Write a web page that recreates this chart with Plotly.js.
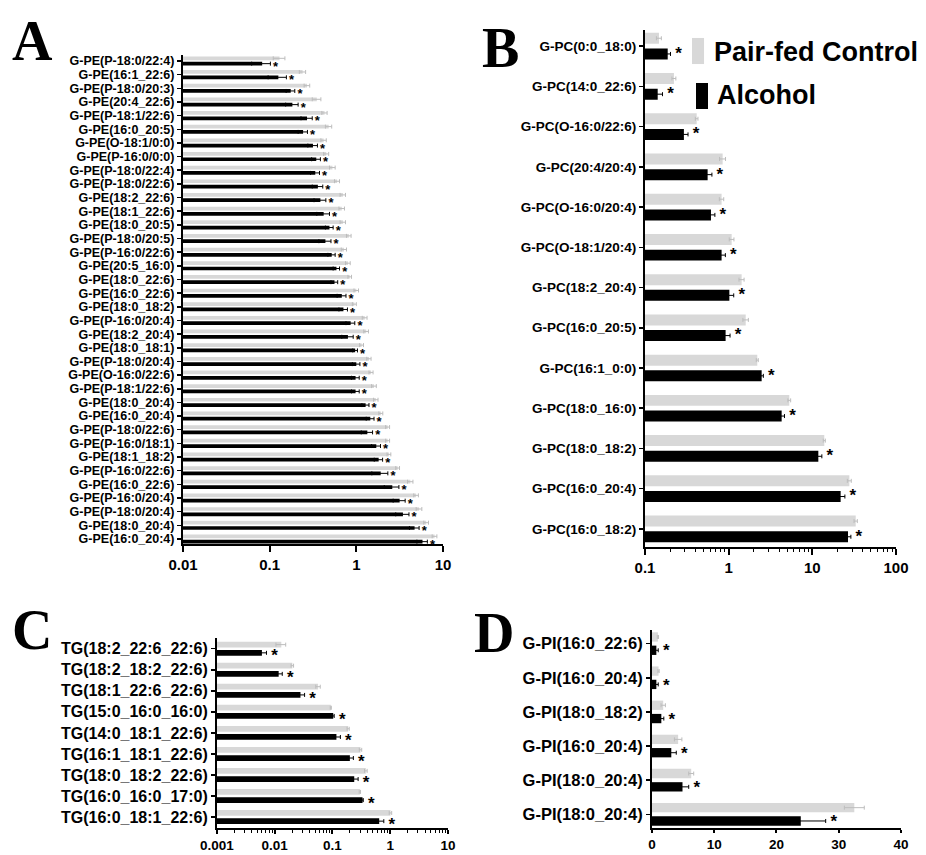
<!DOCTYPE html>
<html><head><meta charset="utf-8">
<script src="https://cdn.plot.ly/plotly-3.0.1.min.js"></script>
<style>html,body{margin:0;padding:0;background:#fff}</style>
</head><body>
<div id="chart" style="width:926px;height:855px"></div>
<script>
// ---- Panel A: G-PE species ----
const peLabels = ["G-PE(P-18:0/22:4)","G-PE(16:1_22:6)","G-PE(P-18:0/20:3)","G-PE(20:4_22:6)","G-PE(P-18:1/22:6)","G-PE(16:0_20:5)","G-PE(O-18:1/0:0)","G-PE(P-16:0/0:0)","G-PE(P-18:0/22:4)","G-PE(P-18:0/22:6)","G-PE(18:2_22:6)","G-PE(18:1_22:6)","G-PE(18:0_20:5)","G-PE(P-18:0/20:5)","G-PE(P-16:0/22:6)","G-PE(20:5_16:0)","G-PE(18:0_22:6)","G-PE(16:0_22:6)","G-PE(18:0_18:2)","G-PE(P-16:0/20:4)","G-PE(18:2_20:4)","G-PE(18:0_18:1)","G-PE(P-18:0/20:4)","G-PE(O-16:0/22:6)","G-PE(P-18:1/22:6)","G-PE(18:0_20:4)","G-PE(16:0_20:4)","G-PE(P-18:0/22:6)","G-PE(P-16:0/18:1)","G-PE(18:1_18:2)","G-PE(P-16:0/22:6)","G-PE(16:0_22:6)","G-PE(P-16:0/20:4)","G-PE(P-18:0/20:4)","G-PE(18:0_20:4)","G-PE(16:0_20:4)"];
const peControl = [0.13,0.24,0.27,0.35,0.43,0.48,0.42,0.45,0.53,0.60,0.70,0.68,0.70,0.82,0.72,0.80,0.84,1.0,0.95,1.25,1.3,1.15,1.40,1.48,1.6,1.68,1.92,2.3,2.3,2.38,3.0,4.2,4.9,5.3,6.4,8.0];
const peControlErr = [0.02,0.02,0.02,0.04,0.03,0.04,0.03,0.03,0.04,0.04,0.05,0.05,0.05,0.05,0.05,0.05,0.04,0.06,0.05,0.08,0.08,0.06,0.08,0.08,0.1,0.1,0.1,0.12,0.12,0.12,0.15,0.3,0.3,0.4,0.4,0.5];
const peAlcohol = [0.082,0.126,0.175,0.183,0.27,0.243,0.316,0.345,0.336,0.36,0.385,0.42,0.49,0.44,0.52,0.59,0.56,0.68,0.71,0.86,0.80,0.97,1.0,0.98,0.98,1.28,1.45,1.34,1.70,1.81,1.91,2.6,3.16,3.45,4.7,5.8];
const peAlcoholErr = [0.02,0.03,0.02,0.03,0.04,0.03,0.04,0.04,0.04,0.05,0.06,0.07,0.05,0.07,0.05,0.05,0.05,0.08,0.08,0.1,0.12,0.06,0.1,0.1,0.1,0.12,0.15,0.2,0.2,0.2,0.4,0.5,0.5,0.6,0.6,0.8];

// ---- Panel B: G-PC species ----
const pcLabels = ["G-PC(0:0_18:0)","G-PC(14:0_22:6)","G-PC(O-16:0/22:6)","G-PC(20:4/20:4)","G-PC(O-16:0/20:4)","G-PC(O-18:1/20:4)","G-PC(18:2_20:4)","G-PC(16:0_20:5)","G-PC(16:1_0:0)","G-PC(18:0_16:0)","G-PC(18:0_18:2)","G-PC(16:0_20:4)","G-PC(16:0_18:2)"];
const pcControl = [0.147,0.222,0.415,0.848,0.824,1.087,1.43,1.60,2.20,5.31,13.9,27.7,33.0];
const pcControlErr = [0.01,0.012,0.015,0.07,0.05,0.07,0.1,0.12,0.06,0.2,0.4,1.5,1.5];
const pcAlcohol = [0.187,0.142,0.292,0.561,0.615,0.824,1.02,0.92,2.48,4.30,11.8,21.8,26.7];
const pcAlcoholErr = [0.015,0.02,0.035,0.07,0.07,0.09,0.13,0.12,0.12,0.35,1.2,2.7,2.2];

// ---- Panel C: TG species ----
const tgLabels = ["TG(18:2_22:6_22:6)","TG(18:2_18:2_22:6)","TG(18:1_22:6_22:6)","TG(15:0_16:0_16:0)","TG(14:0_18:1_22:6)","TG(16:1_18:1_22:6)","TG(18:0_18:2_22:6)","TG(16:0_16:0_17:0)","TG(16:0_18:1_22:6)"];
const tgControl = [0.0130,0.0202,0.0564,0.0935,0.187,0.306,0.378,0.298,1.01];
const tgControlErr = [0.0025,0.001,0.005,0.002,0.008,0.015,0.02,0.008,0.05];
const tgAlcohol = [0.0060,0.0117,0.0279,0.103,0.117,0.20,0.238,0.331,0.644];
const tgAlcoholErr = [0.0012,0.0018,0.005,0.004,0.02,0.03,0.04,0.01,0.13];

// ---- Panel D: G-PI species ----
const piLabels = ["G-PI(16:0_22:6)","G-PI(16:0_20:4)","G-PI(18:0_18:2)","G-PI(16:0_20:4)","G-PI(18:0_20:4)","G-PI(18:0_20:4)"];
const piControl = [0.95,1.05,1.8,4.2,6.3,32.5];
const piControlErr = [0.1,0.1,0.35,0.6,0.4,1.6];
const piAlcohol = [0.7,0.7,1.5,3.1,4.9,23.9];
const piAlcoholErr = [0.3,0.3,0.4,0.8,1.0,4.0];

const seriesNames = ["Pair-fed Control","Alcohol"];
const significanceMark = "*";
const xTicksA = [0.01,0.1,1,10];
const xTicksB = [0.1,1,10,100];
const xTicksC = [0.001,0.01,0.1,1,10];
const xTicksD = [0,10,20,30,40];

const GRAY = "#d8d8d8", BLACK = "#000000";
const SANS = "Liberation Sans, Arial, sans-serif";

function idx(arr){ return arr.map((_, i) => i); }

function pair(labels, ctrl, ctrlErr, alc, alcErr, xa, ya, starSize, pad){
  const y = idx(labels);
  return [
    {type:"bar", orientation:"h", name:seriesNames[0], x:ctrl, y:y, xaxis:xa, yaxis:ya,
     marker:{color:GRAY, line:{width:0}},
     error_x:{type:"data", array:ctrlErr, visible:true, color:"#bdbdbd", thickness:1, width:2},
     showlegend:false, hoverinfo:"x"},
    {type:"bar", orientation:"h", name:seriesNames[1], x:alc, y:y, xaxis:xa, yaxis:ya,
     marker:{color:BLACK, line:{width:0}},
     error_x:{type:"data", array:alcErr, visible:true, color:"#000", thickness:1, width:2},
     showlegend:false, hoverinfo:"x"},
    // significance asterisks placed just past the end of each Alcohol error bar
    {type:"scatter", mode:"text", x:alc.map((v,i) => v + alcErr[i]), y:y, xaxis:xa, yaxis:ya,
     text: labels.map(() => pad + significanceMark), textposition:"bottom right", cliponaxis:false,
     textfont:{family:SANS, size:starSize, color:"#000", weight:"bold"},
     showlegend:false, hoverinfo:"skip"}
  ];
}

const data = [].concat(
  pair(peLabels, peControl, peControlErr, peAlcohol, peAlcoholErr, "x", "y", 13, "\u2009"),
  pair(pcLabels, pcControl, pcControlErr, pcAlcohol, pcAlcoholErr, "x2", "y2", 17, " "),
  pair(tgLabels, tgControl, tgControlErr, tgAlcohol, tgAlcoholErr, "x3", "y3", 17, " "),
  pair(piLabels, piControl, piControlErr, piAlcohol, piAlcoholErr, "x4", "y4", 17, " ")
);

function xAxis(domain, anchor, type, range, tickvals, ticktext, fs, minor, tl){
  const a = {domain:domain, anchor:anchor, type:type, range:range,
    tickmode:"array", tickvals:tickvals, ticktext:ticktext,
    showline:true, linecolor:"#000", linewidth:2, ticks:"outside", ticklen:tl, tickwidth:2, tickcolor:"#000",
    showgrid:false, zeroline:false, mirror:false,
    tickfont:{family:SANS, size:fs, color:"#000", weight:"bold"}};
  if (minor) a.minor = {ticks:"outside", ticklen:3, tickwidth:1, tickcolor:"#000", dtick:"D1", showgrid:false};
  return a;
}
function yAxis(domain, anchor, labels, range, fs){
  return {domain:domain, anchor:anchor, range:range,
    tickmode:"array", tickvals:idx(labels), ticktext:labels,
    showline:true, linecolor:"#000", linewidth:2, ticks:"outside", ticklen:4, tickwidth:1.5, tickcolor:"#000",
    showgrid:false, zeroline:false,
    tickfont:{family:SANS, size:fs, color:"#000", weight:"bold"}};
}

const LETTER = {family:"Liberation Serif, Times New Roman, serif", size:56, color:"#000", weight:"bold"};
const layout = {
  width:926, height:855, margin:{l:0,r:0,t:0,b:0},
  paper_bgcolor:"#fff", plot_bgcolor:"#fff",
  barmode:"group", bargap:0.22, bargroupgap:0.3, showlegend:false,
  xaxis:  xAxis([0.1976,0.4784], "y",  "log", [-2,1], xTicksA, xTicksA.map(String), 15, false, 6),
  yaxis:  yAxis([0.3637,0.9357], "x",  peLabels, [35.37,-0.44], 12.5),
  xaxis2: xAxis([0.6965,0.9676], "y2", "log", [-1,2], xTicksB, xTicksB.map(String), 15, true, 6),
  yaxis2: yAxis([0.3602,0.9649], "x2", pcLabels, [12.45,-0.4], 13.5),
  xaxis3: xAxis([0.2343,0.4838], "y3", "log", [-3,1], xTicksC, xTicksC.map(String), 13.5, true, 4),
  yaxis3: yAxis([0.0316,0.2538], "x3", tgLabels, [8.52,-0.51], 16),
  xaxis4: xAxis([0.7041,0.9730], "y4", "linear", [0,40], xTicksD, xTicksD.map(String), 13.5, false, 3),
  yaxis4: yAxis([0.0316,0.2632], "x4", piLabels, [5.4,-0.4], 16.5),
  shapes:[
    {type:"rect", xref:"paper", yref:"paper", x0:0.7473, x1:0.7603, y0:0.9251, y1:0.9556, fillcolor:GRAY, line:{width:0}},
    {type:"rect", xref:"paper", yref:"paper", x0:0.7516, x1:0.7646, y0:0.8725, y1:0.9029, fillcolor:BLACK, line:{width:0}}
  ],
  annotations:[
    {text:seriesNames[0], xref:"paper", yref:"paper", x:0.7689, y:0.9392, xanchor:"left", yanchor:"middle", showarrow:false,
     font:{family:SANS, size:27, color:"#000", weight:"bold"}},
    {text:seriesNames[1], xref:"paper", yref:"paper", x:0.7721, y:0.8889, xanchor:"left", yanchor:"middle", showarrow:false,
     font:{family:SANS, size:27, color:"#000", weight:"bold"}},
    {text:"A", xref:"paper", yref:"paper", x:0.0356, y:0.952, xanchor:"center", yanchor:"middle", showarrow:false, font:LETTER},
    {text:"B", xref:"paper", yref:"paper", x:0.540, y:0.944, xanchor:"center", yanchor:"middle", showarrow:false, font:LETTER},
    {text:"C", xref:"paper", yref:"paper", x:0.0346, y:0.263, xanchor:"center", yanchor:"middle", showarrow:false, font:LETTER},
    {text:"D", xref:"paper", yref:"paper", x:0.5335, y:0.2596, xanchor:"center", yanchor:"middle", showarrow:false, font:LETTER}
  ]
};

Plotly.newPlot("chart", data, layout, {displayModeBar:false, staticPlot:true});
</script>
</body></html>
